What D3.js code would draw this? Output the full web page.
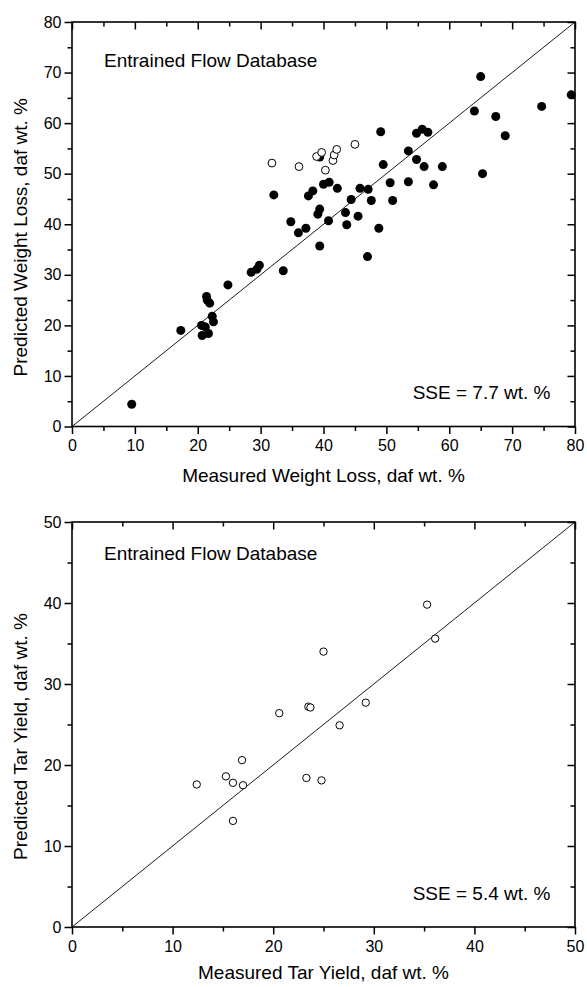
<!DOCTYPE html>
<html>
<head>
<meta charset="utf-8">
<script src="https://cdn.jsdelivr.net/npm/d3@7"></script>
<style>
  html, body { margin: 0; padding: 0; background: #fff; }
  svg { display: block; }
  text { font-family: "Liberation Sans", Arial, Helvetica, sans-serif; fill: #000; }
</style>
</head>
<body>
<svg id="chart" width="587" height="987"></svg>
<script>
// ---------- Data (top panel: weight loss) ----------
const wlFilledMeasured = [9.5, 17.3, 20.6, 20.7, 21.7, 21.2, 22.5, 22.3, 21.4, 21.9, 21.5, 24.8, 28.5, 29.4, 29.8, 33.6,
  32.1, 34.8, 36.0, 37.2, 37.6, 38.3, 39.1, 39.4, 39.4, 40.0, 40.9, 40.8, 42.2, 43.5, 43.7, 44.4, 45.5, 45.8, 47.1, 47.6,
  47.0, 48.8, 49.1, 49.5, 50.6, 51.0, 53.5, 54.8, 53.5, 54.8, 55.7, 56.6, 56.0, 58.9, 57.5, 64.0, 65.0, 65.3, 67.4, 68.9,
  74.7, 79.4, 39.4];
const wlFilledPredicted = [4.4, 19.0, 20.0, 18.0, 18.4, 19.7, 20.7, 21.8, 25.7, 24.4, 25.0, 28.0, 30.5, 31.1, 31.9, 30.8,
  45.8, 40.5, 38.3, 39.2, 45.6, 46.6, 42.0, 43.0, 35.7, 47.9, 48.3, 40.7, 47.1, 42.3, 39.9, 44.9, 41.6, 47.1, 46.9, 44.7,
  33.6, 39.2, 58.3, 51.8, 48.2, 44.7, 54.5, 52.8, 48.4, 58.0, 58.8, 58.2, 51.4, 51.4, 47.8, 62.4, 69.2, 50.0, 61.3, 57.5,
  63.3, 65.6, 53.3];
const wlOpenMeasured = [31.8, 36.1, 38.9, 39.7, 40.3, 41.5, 41.7, 42.1, 45.0];
const wlOpenPredicted = [52.1, 51.4, 53.4, 54.2, 50.7, 52.6, 53.7, 54.8, 55.8];

// ---------- Data (bottom panel: tar yield) ----------
const tarMeasured = [35.3, 36.1, 25.0, 29.2, 23.5, 23.7, 20.6, 26.6, 16.9, 15.3, 16.0, 17.0, 12.4, 23.3, 24.8, 16.0];
const tarPredicted = [39.8, 35.6, 34.0, 27.7, 27.2, 27.1, 26.4, 24.9, 20.6, 18.6, 17.8, 17.5, 17.6, 18.4, 18.1, 13.1];

// ---------- Ticks & labels ----------
const wlMajorTicks = [0, 10, 20, 30, 40, 50, 60, 70, 80];
const wlMinorTicks = [5, 15, 25, 35, 45, 55, 65, 75];
const tarMajorTicks = [0, 10, 20, 30, 40, 50];
const tarMinorTicks = [5, 15, 25, 35, 45];

const panels = [
  {
    top: 22, bottom: 426.5, left: 72, right: 575, max: 80,
    major: wlMajorTicks, minor: wlMinorTicks,
    xTitle: "Measured Weight Loss, daf wt. %",
    yTitle: "Predicted Weight Loss, daf wt. %",
    note: "Entrained Flow Database", noteDy: 44.5,
    sse: "SSE = 7.7 wt. %", sseY: 399,
    xTitleDy: 55, yTitleShift: 13,
    series: [
      { xs: wlFilledMeasured, ys: wlFilledPredicted, filled: true },
      { xs: wlOpenMeasured, ys: wlOpenPredicted, filled: false, r: 3.9 }
    ]
  },
  {
    top: 522, bottom: 927, left: 72, right: 575, max: 50,
    major: tarMajorTicks, minor: tarMinorTicks,
    xTitle: "Measured Tar Yield, daf wt. %",
    yTitle: "Predicted Tar Yield, daf wt. %",
    note: "Entrained Flow Database", noteDy: 37.5,
    sse: "SSE = 5.4 wt. %", sseY: 899.5,
    xTitleDy: 52, yTitleShift: 12,
    series: [
      { xs: tarMeasured, ys: tarPredicted, filled: false, r: 3.7 }
    ]
  }
];

const svg = d3.select("#chart");

panels.forEach((p) => {
  const x = d3.scaleLinear().domain([0, p.max]).range([p.left, p.right]);
  const y = d3.scaleLinear().domain([0, p.max]).range([p.bottom, p.top]);
  const g = svg.append("g");

  const fmt = d3.format("d");
  const majorLen = 7.5, minorLen = 4.5;

  // bottom axis (outward)
  g.append("g").attr("transform", `translate(0,${p.bottom})`)
    .call(d3.axisBottom(x).tickValues(p.major).tickSize(majorLen).tickPadding(6).tickFormat(fmt))
    .call(a => a.select(".domain").remove());
  g.append("g").attr("transform", `translate(0,${p.bottom})`)
    .call(d3.axisBottom(x).tickValues(p.minor).tickSize(minorLen).tickFormat(""))
    .call(a => a.select(".domain").remove());
  // left axis (outward)
  g.append("g").attr("transform", `translate(${p.left},0)`)
    .call(d3.axisLeft(y).tickValues(p.major).tickSize(majorLen).tickPadding(3).tickFormat(fmt))
    .call(a => a.select(".domain").remove());
  g.append("g").attr("transform", `translate(${p.left},0)`)
    .call(d3.axisLeft(y).tickValues(p.minor).tickSize(minorLen).tickFormat(""))
    .call(a => a.select(".domain").remove());
  // top axis (inward)
  g.append("g").attr("transform", `translate(0,${p.top})`)
    .call(d3.axisTop(x).tickValues(p.major).tickSize(-majorLen).tickFormat(""))
    .call(a => a.select(".domain").remove());
  g.append("g").attr("transform", `translate(0,${p.top})`)
    .call(d3.axisTop(x).tickValues(p.minor).tickSize(-minorLen).tickFormat(""))
    .call(a => a.select(".domain").remove());
  // right axis (inward)
  g.append("g").attr("transform", `translate(${p.right},0)`)
    .call(d3.axisRight(y).tickValues(p.major).tickSize(-majorLen).tickFormat(""))
    .call(a => a.select(".domain").remove());
  g.append("g").attr("transform", `translate(${p.right},0)`)
    .call(d3.axisRight(y).tickValues(p.minor).tickSize(-minorLen).tickFormat(""))
    .call(a => a.select(".domain").remove());

  g.selectAll(".tick line").attr("stroke", "#000").attr("stroke-width", 1.5);
  g.selectAll(".tick text")
    .style("font-family", '"Liberation Sans", Arial, Helvetica, sans-serif')
    .style("font-size", "16px").attr("fill", "#000");

  // frame
  g.append("rect")
    .attr("x", p.left).attr("y", p.top)
    .attr("width", p.right - p.left).attr("height", p.bottom - p.top)
    .attr("fill", "none").attr("stroke", "#000").attr("stroke-width", 1.6);

  // 1:1 line
  g.append("line")
    .attr("x1", x(0)).attr("y1", y(0)).attr("x2", x(p.max)).attr("y2", y(p.max))
    .attr("stroke", "#000").attr("stroke-width", 0.9);

  // points
  p.series.forEach(s => {
    const pts = s.xs.map((v, i) => [v, s.ys[i]]);
    g.append("g").selectAll("circle").data(pts).join("circle")
      .attr("cx", d => x(d[0])).attr("cy", d => y(d[1]))
      .attr("r", s.filled ? 4.5 : s.r)
      .attr("fill", s.filled ? "#000" : "#fff")
      .attr("stroke", "#000").attr("stroke-width", s.filled ? 0 : 1);
  });

  // texts
  g.append("text").attr("x", 104).attr("y", p.top + p.noteDy)
    .style("font-size", "19px").text(p.note);
  g.append("text").attr("x", 550.5).attr("y", p.sseY).attr("text-anchor", "end")
    .style("font-size", "19px").text(p.sse);
  g.append("text").attr("x", (p.left + p.right) / 2).attr("y", p.bottom + p.xTitleDy)
    .attr("text-anchor", "middle").style("font-size", "19px").text(p.xTitle);
  const cy = (p.top + p.bottom) / 2 + p.yTitleShift;
  g.append("text").attr("transform", `translate(27,${cy}) rotate(-90)`)
    .attr("text-anchor", "middle").style("font-size", "19px").text(p.yTitle);
});
</script>
</body>
</html>
